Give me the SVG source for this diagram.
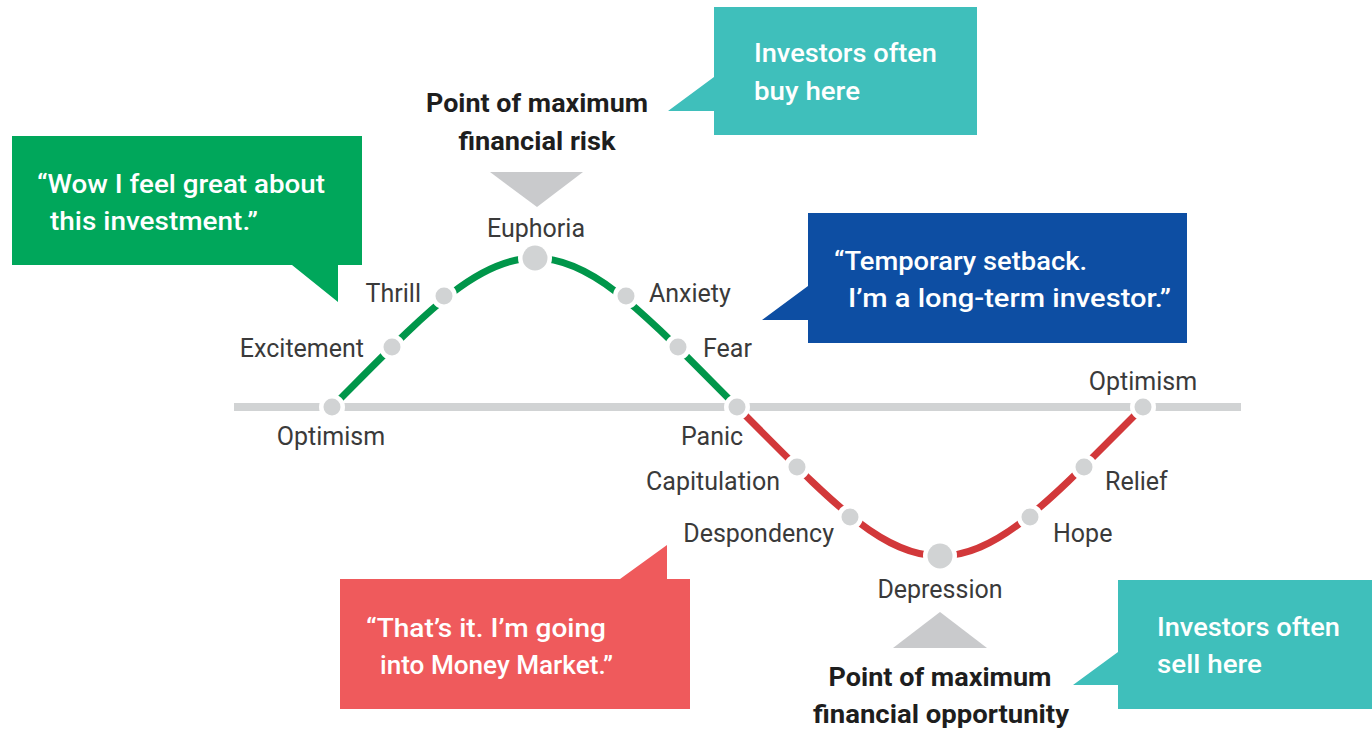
<svg xmlns="http://www.w3.org/2000/svg" width="1372" height="730" viewBox="0 0 1372 730">
  <style>
    .lbl { font-family: Roboto, "Liberation Sans", sans-serif; font-size: 25px; fill: #3a3a3a; }
    .head { font-family: Roboto, "Liberation Sans", sans-serif; font-size: 26px; font-weight: 700; fill: #1e1e1e; text-anchor: middle; }
    .say { font-family: Roboto, "Liberation Sans", sans-serif; font-size: 26px; font-weight: 500; fill: #ffffff; }
    .dot { fill: #d1d3d4; stroke: #ffffff; stroke-width: 9; paint-order: stroke; }
    .pointer { fill: #c9cacc; }
  </style>

  <rect width="1372" height="730" fill="#ffffff"/>

  <!-- baseline and the emotional cycle curve -->
  <g id="connectors">
    <line x1="234" y1="407" x2="1241" y2="407" stroke="#d1d3d4" stroke-width="8"/>
    <path d="M332,407 C422,317 475,258 535,258 C595,258 647,317 737,407" fill="none" stroke="#00964a" stroke-width="7"/>
    <path d="M737,407 C827,497 880,556 940,556 C1000,556 1053,497 1143,407" fill="none" stroke="#d2383a" stroke-width="7"/>
  </g>

  <!-- stages along the cycle -->
  <g id="optimism-start">
    <circle class="dot" cx="332" cy="407" r="8.5"/>
    <text class="lbl" x="331" y="445" text-anchor="middle">Optimism</text>
  </g>
  <g id="excitement">
    <circle class="dot" cx="392" cy="347" r="8.5"/>
    <text class="lbl" x="364" y="357" text-anchor="end">Excitement</text>
  </g>
  <g id="thrill">
    <circle class="dot" cx="444" cy="296" r="8.5"/>
    <text class="lbl" x="421" y="302" text-anchor="end">Thrill</text>
  </g>
  <g id="euphoria">
    <circle class="dot" cx="535" cy="258" r="12.5"/>
    <text class="lbl" x="536" y="237" text-anchor="middle">Euphoria</text>
  </g>
  <g id="anxiety">
    <circle class="dot" cx="626" cy="296" r="8.5"/>
    <text class="lbl" x="649" y="302">Anxiety</text>
  </g>
  <g id="fear">
    <circle class="dot" cx="678" cy="347" r="8.5"/>
    <text class="lbl" x="703" y="357">Fear</text>
  </g>
  <g id="panic">
    <circle class="dot" cx="737" cy="407" r="8.5"/>
    <text class="lbl" x="712" y="445" text-anchor="middle">Panic</text>
  </g>
  <g id="capitulation">
    <circle class="dot" cx="797" cy="467" r="8.5"/>
    <text class="lbl" x="780" y="490" text-anchor="end">Capitulation</text>
  </g>
  <g id="despondency">
    <circle class="dot" cx="850" cy="517" r="8.5"/>
    <text class="lbl" x="834" y="542" text-anchor="end">Despondency</text>
  </g>
  <g id="depression">
    <circle class="dot" cx="940" cy="556" r="12.5"/>
    <text class="lbl" x="940" y="598" text-anchor="middle">Depression</text>
  </g>
  <g id="hope">
    <circle class="dot" cx="1030" cy="517" r="8.5"/>
    <text class="lbl" x="1053" y="542">Hope</text>
  </g>
  <g id="relief">
    <circle class="dot" cx="1084" cy="467" r="8.5"/>
    <text class="lbl" x="1105" y="490">Relief</text>
  </g>
  <g id="optimism-end">
    <circle class="dot" cx="1143" cy="407" r="8.5"/>
    <text class="lbl" x="1143" y="390" text-anchor="middle">Optimism</text>
  </g>

  <!-- peak and trough markers -->
  <g id="max-risk">
    <text class="head" x="537" y="112" textLength="222" lengthAdjust="spacingAndGlyphs">Point of maximum</text>
    <text class="head" x="537" y="150" textLength="157" lengthAdjust="spacingAndGlyphs">financial risk</text>
    <polygon class="pointer" points="490,172 583,172 537,207"/>
  </g>
  <g id="max-opportunity">
    <polygon class="pointer" points="940,612 987,648 893,648"/>
    <text class="head" x="940" y="686" textLength="223" lengthAdjust="spacingAndGlyphs">Point of maximum</text>
    <text class="head" x="941" y="723" textLength="256" lengthAdjust="spacingAndGlyphs">financial opportunity</text>
  </g>

  <!-- speech callouts -->
  <g id="callout-wow">
    <path d="M12,136 H362 V265 H338 V302 L292,265 H12 Z" fill="#00a75b"/>
    <text class="say" x="37" y="193" textLength="288" lengthAdjust="spacingAndGlyphs">“Wow I feel great about</text>
    <text class="say" x="50" y="230" textLength="208" lengthAdjust="spacingAndGlyphs">this investment.”</text>
  </g>
  <g id="callout-buy">
    <path d="M714,7 H977 V135 H714 V111 H668 L714,77 Z" fill="#3fbfbb"/>
    <text class="say" x="754" y="62" textLength="183" lengthAdjust="spacingAndGlyphs">Investors often</text>
    <text class="say" x="754" y="100" textLength="106" lengthAdjust="spacingAndGlyphs">buy here</text>
  </g>
  <g id="callout-setback">
    <path d="M808,213 H1187 V343 H808 V320 H762 L808,286 Z" fill="#0d4ea3"/>
    <text class="say" x="834" y="270" textLength="253" lengthAdjust="spacingAndGlyphs">“Temporary setback.</text>
    <text class="say" x="848" y="307" textLength="323" lengthAdjust="spacingAndGlyphs">I’m a long-term investor.”</text>
  </g>
  <g id="callout-money-market">
    <path d="M340,579 H620 L667,545 V579 H690 V709 H340 Z" fill="#ef5a5c"/>
    <text class="say" x="366" y="637" textLength="240" lengthAdjust="spacingAndGlyphs">“That’s it. I’m going</text>
    <text class="say" x="380" y="674" textLength="233" lengthAdjust="spacingAndGlyphs">into Money Market.”</text>
  </g>
  <g id="callout-sell">
    <path d="M1118,580 H1372 V709 H1118 V685 H1073 L1118,652 Z" fill="#3fbfbb"/>
    <text class="say" x="1157" y="636" textLength="183" lengthAdjust="spacingAndGlyphs">Investors often</text>
    <text class="say" x="1157" y="673" textLength="105" lengthAdjust="spacingAndGlyphs">sell here</text>
  </g>
</svg>
